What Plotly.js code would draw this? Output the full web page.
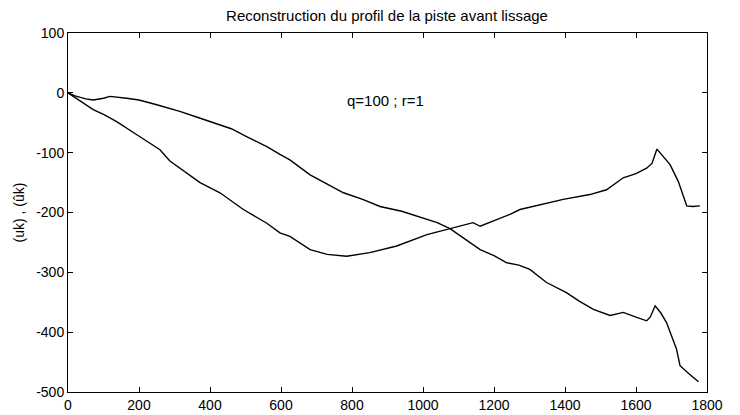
<!DOCTYPE html>
<html>
<head>
<meta charset="utf-8">
<script src="https://cdn.plot.ly/plotly-3.0.1.min.js"></script>
<style>html,body{margin:0;padding:0;background:#fff;}#chart{width:740px;height:415px;}</style>
</head>
<body>
<div id="chart"></div>
<script>
// Série 1 (uk)
var xA = [0, 20, 50, 71, 100, 118, 165, 200, 250, 315, 360, 409, 460, 503, 560, 597, 625, 682, 730, 776, 830, 879, 940, 1001, 1040, 1076, 1120, 1161, 1200, 1236, 1270, 1301, 1348, 1404, 1440, 1480, 1527, 1564, 1600, 1630, 1640, 1654, 1670, 1686, 1714, 1724, 1750, 1776];
var yA = [0, -5, -10, -12, -9, -6, -9, -12, -20, -31, -40, -50, -60, -73, -90, -103, -112, -137, -152, -167, -178, -190, -198, -209, -217, -227, -245, -262, -272, -284, -288, -295, -317, -334, -348, -362, -372, -367, -375, -381, -375, -356, -368, -384, -428, -456, -470, -483];
// Série 2 (ûk)
var xB = [0, 30, 71, 100, 137, 194, 259, 287, 330, 372, 428, 494, 560, 597, 625, 682, 730, 785, 850, 926, 1011, 1076, 1141, 1161, 1208, 1245, 1273, 1330, 1395, 1470, 1517, 1564, 1600, 1630, 1645, 1659, 1675, 1696, 1719, 1743, 1760, 1780];
var yB = [0, -12, -28, -36, -48, -70, -95, -114, -132, -150, -167, -195, -218, -234, -240, -262, -270, -273, -267, -256, -237, -227, -217, -223, -212, -203, -195, -187, -178, -170, -162, -142, -135, -126, -118, -94, -105, -120, -148, -189, -190, -189];

var xTicks = [0, 200, 400, 600, 800, 1000, 1200, 1400, 1600, 1800];
var yTicks = [100, 0, -100, -200, -300, -400, -500];
var titleText = "Reconstruction du profil de la piste avant lissage";
var yLabel = "(uk) , (ûk)";
var noteText = "q=100 ; r=1";

var fam = "Liberation Sans, Arial, sans-serif";
var tickFont = {family: fam, color: "#000", size: 14};

var traces = [
  {x: xA, y: yA, mode: "lines", line: {color: "#000", width: 1.4}, hoverinfo: "none"},
  {x: xB, y: yB, mode: "lines", line: {color: "#000", width: 1.4}, hoverinfo: "none"}
];

var layout = {
  width: 740, height: 415,
  margin: {l: 68, r: 33, t: 33, b: 23},
  paper_bgcolor: "#fff", plot_bgcolor: "#fff",
  showlegend: false,
  font: tickFont,
  title: {text: titleText, font: {family: fam, size: 15, color: "#000"}, x: 0.523, xanchor: "center", y: 0.963, yanchor: "middle"},
  xaxis: {
    range: [0, 1800], tickvals: xTicks, ticktext: xTicks.map(String),
    ticks: "inside", ticklen: 5, tickcolor: "#000", showline: true, linecolor: "#000", linewidth: 1,
    mirror: "ticks", showgrid: false, zeroline: false, tickfont: tickFont
  },
  yaxis: {
    range: [-500, 100], tickvals: yTicks, ticktext: yTicks.map(String),
    ticks: "inside", ticklen: 5, tickcolor: "#000", showline: true, linecolor: "#000", linewidth: 1,
    mirror: "ticks", showgrid: false, zeroline: false, tickfont: tickFont,
    title: {text: yLabel, font: {family: fam, size: 14, color: "#000"}, standoff: 8}
  },
  annotations: [
    {x: 893, y: -12, xref: "x", yref: "y", text: noteText, showarrow: false, font: {family: fam, size: 15, color: "#000"}}
  ]
};

Plotly.newPlot("chart", traces, layout, {staticPlot: true, displayModeBar: false});
</script>
</body>
</html>
